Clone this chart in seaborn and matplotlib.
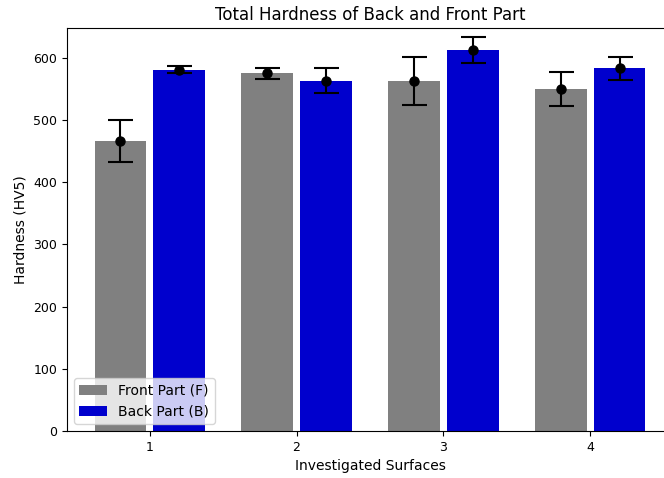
import matplotlib
matplotlib.use("Agg")
import matplotlib.pyplot as plt
import seaborn as sns
import pandas as pd

# Hardness measurements per investigated surface
surfaces = ["1", "2", "3", "4"]
front_mean = [466, 575, 563, 550]
front_err = [34, 9, 38, 27]
back_mean = [581, 563, 613, 583]
back_err = [6, 20, 21, 19]
parts = ["Front Part (F)", "Back Part (B)"]
colors = ["#808080", "#0000CD"]

df = pd.DataFrame({
    "Surface": surfaces * 2,
    "Part": [parts[0]] * len(surfaces) + [parts[1]] * len(surfaces),
    "Hardness": front_mean + back_mean,
    "Err": front_err + back_err,
})

plt.rcParams["font.family"] = ["DejaVu Sans"]
plt.rcParams["font.size"] = 10
plt.rcParams["xtick.labelsize"] = 9
plt.rcParams["ytick.labelsize"] = 9

fig = plt.figure(figsize=(6.64, 4.78), dpi=100)
ax = fig.add_axes([0.1009, 0.0983, 0.9127, 0.843])

sns.barplot(data=df, x="Surface", y="Hardness", hue="Part",
            palette=colors, gap=0.125, errorbar=None, ax=ax,
            saturation=1.0)

# error bars centred on each bar, with the mean as a dot
for cont, means, errs in zip(ax.containers, [front_mean, back_mean],
                             [front_err, back_err]):
    xs = [p.get_x() + p.get_width() / 2 for p in cont.patches]
    ax.errorbar(xs, means, yerr=errs, fmt="o", color="black",
                ecolor="black", capsize=9, markersize=6.5, elinewidth=1.5,
                capthick=1.5)

ax.set_xlim(-0.5625, 3.5625)
ax.set_ylim(0, 648)
ax.set_title("Total Hardness of Back and Front Part", fontsize=12)
ax.set_xlabel("Investigated Surfaces", fontsize=10)
ax.set_ylabel("Hardness (HV5)", fontsize=10)
ax.legend(loc="lower left", title=None, fontsize=10)

fig.savefig("out.png", dpi=100)
